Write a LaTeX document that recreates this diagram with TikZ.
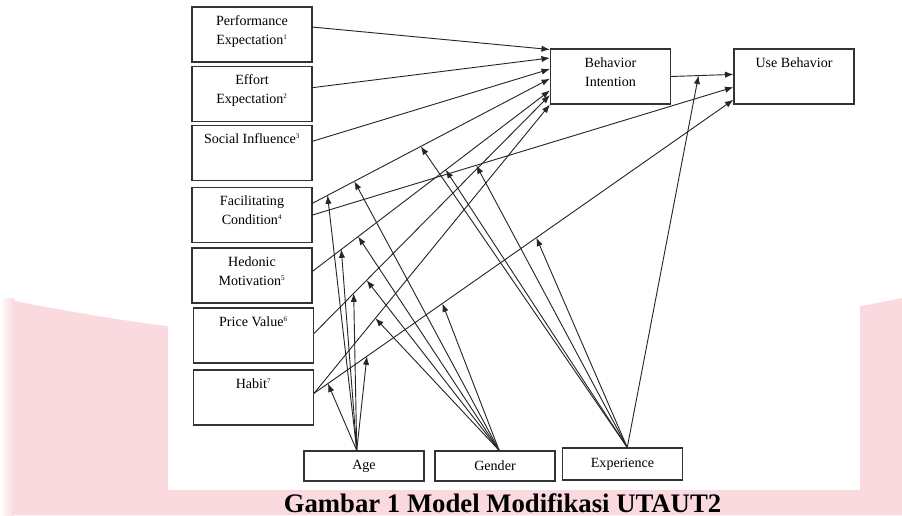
\documentclass[tikz,border=0pt]{standalone}
\usepackage{fontspec}
\setmainfont{Liberation Serif}
\usepackage{tikz}
\usetikzlibrary{arrows.meta}
\definecolor{bandpink}{RGB}{251,218,223}
\newcommand{\nr}[1]{\textsuperscript{\tiny #1}}
\newcommand{\toptext}[1]{\parbox[c][1.375cm][t]{3cm}{\centering\vspace*{6pt}#1}}

\begin{document}
\begin{tikzpicture}[x=0.025cm, y=-0.025cm, >={Latex[length=6pt,width=4.5pt]},
	var/.style={draw=black!80, line width=0.8pt, inner sep=0pt, font=\fontsize{10}{13.5}\selectfont},
	modbox/.style={draw=black!80, line width=0.8pt, minimum width=3cm, minimum height=0.75cm, inner sep=0pt, font=\fontsize{10}{12}\selectfont},
	link/.style={->, line width=0.65pt, draw=black!85}]
				% background band
				\fill[bandpink] (0,298) .. controls (300,360) and (600,360) .. (902,298) -- (902,515) -- (0,515) -- cycle;
				\shade[left color=white, right color=bandpink] (0,298) rectangle (14,515);
				\fill[white] (168,0) rectangle (860,490);
				\useasboundingbox (0,0) rectangle (902,515);
				% constructs
				\node[var] (pe) at (252,34.5) {\toptext{Performance\\Expectation\nr{1}}};
				\node[var] (ee) at (252,94) {\toptext{Effort\\Expectation\nr{2}}};
				\node[var] (si) at (252,153) {\toptext{Social Influence\nr{3}}};
				\node[var] (fc) at (252,215) {\toptext{Facilitating\\Condition\nr{4}}};
				\node[var] (hm) at (252,275.5) {\toptext{Hedonic\\Motivation\nr{5}}};
				\node[var] (pv) at (253.5,335.5) {\toptext{Price Value\nr{6}}};
				\node[var] (ht) at (253.5,397.5) {\toptext{Habit\nr{7}}};
				\node[var] (bi) at (610.5,76.5) {\toptext{Behavior\\Intention}};
				\node[var] (ub) at (794,76.5) {\toptext{Use Behavior}};
				% moderators
				\node[modbox] (age) at (364,466) {Age};
				\node[modbox] (gen) at (495,466) {Gender};
				\node[modbox, minimum height=0.8cm] (exp) at (622.5,464) {Experience};
				\node[inner sep=0pt, anchor=base, font=\bfseries\fontsize{19}{23}\selectfont] (cap) at (502.5,512) {Gambar 1 Model Modifikasi UTAUT2};
				% main paths
				\draw[link] (pe.7) -- (bi.156);
				\draw[link] (ee.6) -- (bi.163);
				\draw[link] (si.11) -- (bi.173);
				\draw[link] (fc.11) -- coordinate[pos=.063] (fc-age) coordinate[pos=.176] (fc-gen) coordinate[pos=.456] (fc-exp) (bi.182);
				\draw[link] (fc.east) -- coordinate[pos=.389] (fcu-exp) (ub.190);
				\draw[link] (hm.4) -- coordinate[pos=.121] (hm-age) coordinate[pos=.192] (hm-gen) coordinate[pos=.561] (hm-exp) (bi.193);
				\draw[link] (pv.2) -- coordinate[pos=.168] (pv-age) coordinate[pos=.223] (pv-gen) (bi.197);
				\draw[link] (ht.4) -- coordinate[pos=.26] (ht-gen) (bi.south west);
				\draw[link] (ht.4) -- coordinate[pos=.033] (htu-age) coordinate[pos=.126] (htu-agetwo) coordinate[pos=.306] (htu-gen) coordinate[pos=.53] (htu-exp) (ub.201);
				\draw[link] (bi.east) -- coordinate[pos=.44] (biu-exp) (ub.178);
				% moderating arrows
				\foreach \t in {fc-age,hm-age,pv-age,htu-age,htu-agetwo}
					\draw[link] (age.115) -- (\t);
				\foreach \t in {fc-gen,hm-gen,pv-gen,ht-gen,htu-gen}
					\draw[link] (gen.75) -- (\t);
				\foreach \t in {fc-exp,hm-exp,fcu-exp,htu-exp,biu-exp}
					\draw[link] (exp.74) -- (\t);
			\end{tikzpicture}
\end{document}
